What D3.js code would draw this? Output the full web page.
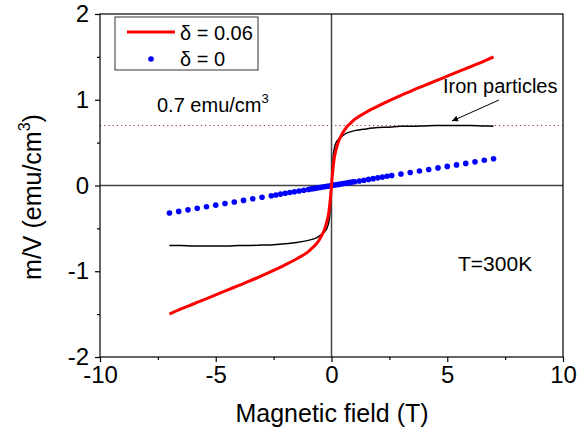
<!DOCTYPE html>
<html><head><meta charset="utf-8">
<script src="https://cdn.jsdelivr.net/npm/d3@7"></script>
<style>body{margin:0;background:#fff}svg{display:block;font-family:"Liberation Sans",Arial,sans-serif}</style>
</head><body>
<svg id="c" width="579" height="434"></svg>
<script>
// ---- data ----
const xTicks = [-10, -5, 0, 5, 10];
const yTicks = [-2, -1, 0, 1, 2];
const redX = [-7,-6.5,-6,-5.5,-5,-4.5,-4,-3.5,-3,-2.5,-2,-1.5,-1,-0.8,-0.65,-0.5,-0.4,-0.3,-0.2,-0.12,-0.07,-0.03,0,0.03,0.07,0.12,0.2,0.3,0.4,0.5,0.65,0.8,1,1.5,2,2.5,3,3.5,4,4.5,5,5.5,6,6.5,7];
const redY = [-1.50,-1.44,-1.385,-1.33,-1.275,-1.22,-1.165,-1.11,-1.05,-0.99,-0.925,-0.855,-0.77,-0.72,-0.68,-0.62,-0.57,-0.51,-0.42,-0.32,-0.21,-0.10,0,0.10,0.21,0.32,0.42,0.51,0.57,0.62,0.68,0.72,0.77,0.855,0.925,0.99,1.05,1.11,1.165,1.22,1.275,1.33,1.385,1.44,1.50];
const blackX = redX;
const blackY = [-0.70,-0.70,-0.705,-0.705,-0.705,-0.705,-0.70,-0.70,-0.695,-0.69,-0.68,-0.665,-0.64,-0.625,-0.61,-0.585,-0.565,-0.54,-0.50,-0.43,-0.33,-0.13,0,0.13,0.33,0.43,0.50,0.54,0.565,0.585,0.61,0.625,0.64,0.66,0.675,0.68,0.69,0.69,0.695,0.70,0.70,0.70,0.70,0.695,0.69];
const blueX = [-7,-6.6,-6.2,-5.8,-5.4,-5,-4.6,-4.2,-3.8,-3.4,-3,-2.6,-2.4,-2.2,-2,-1.8,-1.6,-1.4,-1.2,-1,-0.9,-0.8,-0.7,-0.6,-0.5,-0.4,-0.3,-0.2,-0.1,0,0.1,0.2,0.3,0.4,0.5,0.6,0.7,0.8,0.9,1,1.2,1.4,1.6,1.8,2,2.2,2.4,2.6,3,3.4,3.8,4.2,4.6,5,5.4,5.8,6.2,6.6,7];
const blueY = [-0.320,-0.302,-0.284,-0.265,-0.247,-0.229,-0.210,-0.192,-0.174,-0.155,-0.137,-0.119,-0.110,-0.100,-0.091,-0.082,-0.073,-0.064,-0.055,-0.046,-0.041,-0.037,-0.032,-0.027,-0.023,-0.018,-0.014,-0.009,-0.005,0,0.004,0.009,0.013,0.018,0.022,0.027,0.031,0.036,0.040,0.044,0.053,0.062,0.071,0.080,0.089,0.098,0.107,0.116,0.134,0.151,0.169,0.187,0.205,0.223,0.240,0.258,0.276,0.294,0.312];
const labels = {red: "δ = 0.06", blue: "δ = 0", xTitle: "Magnetic field (T)", note: "T=300K", iron: "Iron particles"};

// ---- layout ----
const svg = d3.select("#c");
const L = 100, R = 563, T = 14, B = 357;
const x = d3.scaleLinear().domain([-10, 10]).range([L, R]);
const y = d3.scaleLinear().domain([-2, 2]).range([B, T]);

// reference lines
svg.append("line").attr("x1", L).attr("x2", R).attr("y1", y(0.7)).attr("y2", y(0.7))
  .attr("stroke", "#a52a2a").attr("stroke-width", 1).attr("stroke-dasharray", "1.2,3");
svg.append("line").attr("x1", L).attr("x2", R).attr("y1", y(0)).attr("y2", y(0))
  .attr("stroke", "#444").attr("stroke-width", 1.5);
svg.append("line").attr("x1", x(0)).attr("x2", x(0)).attr("y1", T).attr("y2", B)
  .attr("stroke", "#444").attr("stroke-width", 1.5);

// axes
const fmt = d => String(d);
const xAxis = d3.axisBottom(x).tickValues(xTicks).tickSize(5).tickPadding(4).tickFormat(fmt);
const xMinor = d3.axisBottom(x).tickValues([-7.5,-2.5,2.5,7.5]).tickSize(3).tickFormat("");
const yAxis = d3.axisLeft(y).tickValues(yTicks).tickSize(5).tickPadding(6).tickFormat(fmt);
const yMinor = d3.axisLeft(y).tickValues([-1.5,-0.5,0.5,1.5]).tickSize(3).tickFormat("");
function style(g){ g.select(".domain").remove(); g.selectAll("line").attr("stroke","#000").attr("stroke-width",1.2);
  g.selectAll("text").attr("font-size",24).attr("fill","#000").attr("font-family","Liberation Sans, Arial, sans-serif"); }
svg.append("g").attr("transform",`translate(0,${B})`).call(xAxis).call(style);
svg.append("g").attr("transform",`translate(0,${B})`).call(xMinor).call(style);
svg.append("g").attr("transform",`translate(${L},0)`).call(yAxis).call(style);
svg.append("g").attr("transform",`translate(${L},0)`).call(yMinor).call(style);
svg.append("rect").attr("x", L).attr("y", T).attr("width", R-L).attr("height", B-T)
  .attr("fill","none").attr("stroke","#000").attr("stroke-width",1.2);

// data
const line = d3.line().x(d=>x(d[0])).y(d=>y(d[1])).curve(d3.curveMonotoneX);
svg.append("path").datum(blackX.map((v,i)=>[v,blackY[i]])).attr("d", line)
  .attr("fill","none").attr("stroke","#000").attr("stroke-width",1.5);
svg.append("g").selectAll("circle").data(blueX.map((v,i)=>[v,blueY[i]])).join("circle")
  .attr("cx", d=>x(d[0])).attr("cy", d=>y(d[1])).attr("r", 2.8).attr("fill","#0000ff");
svg.append("path").datum(redX.map((v,i)=>[v,redY[i]])).attr("d", line)
  .attr("fill","none").attr("stroke","#ff0000").attr("stroke-width",3);

// legend
svg.append("rect").attr("x",115).attr("y",17).attr("width",143).attr("height",53)
  .attr("fill","#fff").attr("stroke","#333").attr("stroke-width",1);
svg.append("line").attr("x1",127).attr("x2",175).attr("y1",32).attr("y2",32).attr("stroke","#ff0000").attr("stroke-width",3);
svg.append("circle").attr("cx",151).attr("cy",59).attr("r",2.8).attr("fill","#0000ff");
svg.append("text").attr("x",180).attr("y",40).attr("font-size",20).text(labels.red);
svg.append("text").attr("x",180).attr("y",66).attr("font-size",20).text(labels.blue);

// annotations
const t07 = svg.append("text").attr("x",157).attr("y",112).attr("font-size",20);
t07.append("tspan").text("0.7 emu/cm");
t07.append("tspan").attr("dy",-9).attr("font-size",13).text("3");
svg.append("text").attr("x",443).attr("y",93).attr("font-size",20).text(labels.iron);
svg.append("text").attr("x",458).attr("y",271).attr("font-size",21).text(labels.note);
svg.append("defs").append("marker").attr("id","ah").attr("viewBox","0 0 10 10").attr("refX",10).attr("refY",5)
  .attr("markerWidth",9).attr("markerHeight",6).attr("orient","auto").attr("markerUnits","userSpaceOnUse")
  .append("path").attr("d","M0,0L10,5L0,10z").attr("fill","#000");
svg.append("line").attr("x1",499).attr("y1",100).attr("x2",452).attr("y2",121)
  .attr("stroke","#000").attr("stroke-width",1).attr("marker-end","url(#ah)");

// axis titles
svg.append("text").attr("x",332).attr("y",422).attr("text-anchor","middle").attr("font-size",25).text(labels.xTitle);
const yt = svg.append("text").attr("transform","translate(41,197) rotate(-90)").attr("text-anchor","middle").attr("font-size",25);
yt.append("tspan").text("m/V (emu/cm");
yt.append("tspan").attr("dy",-11).attr("font-size",16).text("3");
yt.append("tspan").attr("dy",11).text(")");
</script>
</body></html>
